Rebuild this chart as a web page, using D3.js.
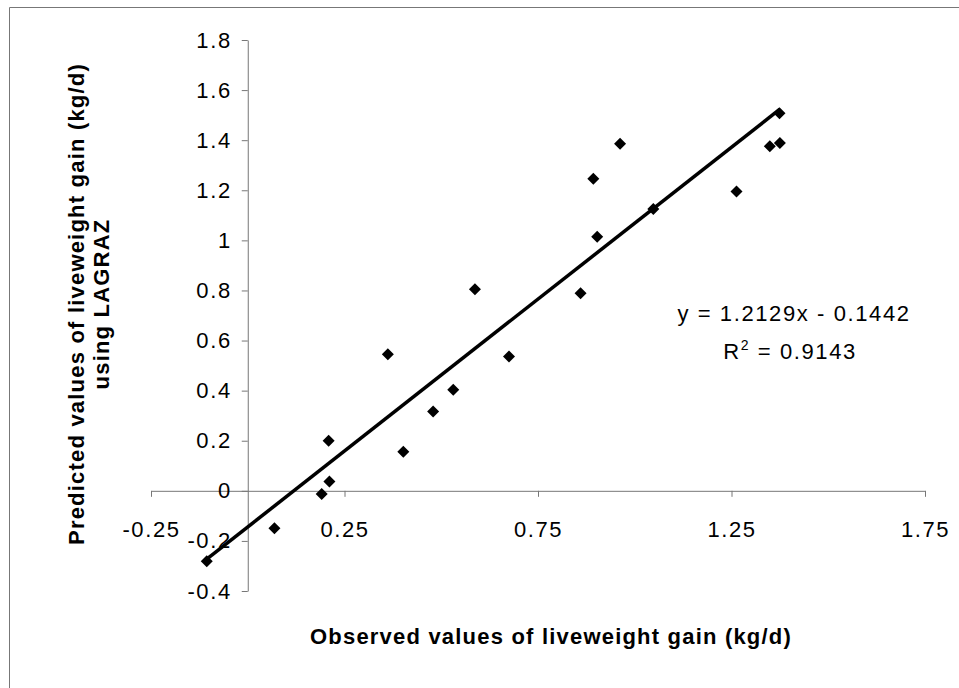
<!DOCTYPE html>
<html>
<head>
<meta charset="utf-8">
<script src="https://cdn.jsdelivr.net/npm/d3@7"></script>
<style>
  body { margin: 0; background: #fff; }
  svg { display: block; font-family: Arial, "Liberation Sans", sans-serif; }
</style>
</head>
<body>
<div id="chart"></div>
<script>
// observed vs predicted liveweight gain (kg/d)
var observed  = [-0.106, 0.069, 0.191, 0.211, 0.209, 0.402, 0.362, 0.479, 0.531, 0.587,
                 0.675, 0.860, 0.893, 0.903, 0.962, 1.048, 1.263, 1.349, 1.375, 1.374];
var predicted = [-0.281, -0.149, -0.013, 0.037, 0.200, 0.156, 0.545, 0.317, 0.404, 0.805,
                 0.536, 0.789, 1.246, 1.014, 1.386, 1.125, 1.195, 1.376, 1.389, 1.508];
var xTicks = [-0.25, 0.25, 0.75, 1.25, 1.75];
var yTicks = [-0.4, -0.2, 0, 0.2, 0.4, 0.6, 0.8, 1, 1.2, 1.4, 1.6, 1.8];
var slope = 1.2129, intercept = -0.1442, r2 = 0.9143;

var width = 959, height = 688;
var fs = 22, ls = 1.6;   // scanned text is wide, so a bit of letter spacing

var svg = d3.select("#chart").append("svg")
    .attr("width", width)
    .attr("height", height);

// frame (top and left edges only visible)
svg.append("path")
    .attr("d", "M9.5,688 V7.5 H959")
    .attr("fill", "none")
    .attr("stroke", "#777")
    .attr("stroke-width", 1);

var x = d3.scaleLinear().domain([-0.25, 1.75]).range([151, 925]);
var y = d3.scaleLinear().domain([-0.4, 1.8]).range([591, 40]);

// x axis sits at y = 0
var gx = svg.append("g")
    .attr("transform", "translate(0," + y(0) + ")")
    .call(d3.axisBottom(x).tickValues(xTicks).tickSizeInner(6).tickSizeOuter(0)
        .tickFormat(function(d){ return d; }));
gx.select(".domain").attr("stroke", "#777");
gx.selectAll(".tick line").attr("stroke", "#777");
gx.selectAll(".tick text")
    .attr("y", 31)
    .attr("font-size", fs)
    .attr("letter-spacing", ls)
    .attr("fill", "#000");

// y axis sits at x = 0
var gy = svg.append("g")
    .attr("transform", "translate(" + x(0) + ",0)")
    .call(d3.axisLeft(y).tickValues(yTicks).tickSizeInner(6).tickSizeOuter(0)
        .tickFormat(function(d){ return d; }));
gy.select(".domain").attr("stroke", "#777");
gy.selectAll(".tick line").attr("stroke", "#777");
gy.selectAll(".tick text")
    .attr("x", -16)
    .attr("font-size", fs)
    .attr("letter-spacing", ls)
    .attr("fill", "#000");

// trend line across the data range
var xExt = d3.extent(observed);
svg.append("line")
    .attr("x1", x(xExt[0])).attr("y1", y(slope * xExt[0] + intercept))
    .attr("x2", x(xExt[1])).attr("y2", y(slope * xExt[1] + intercept))
    .attr("stroke", "#000")
    .attr("stroke-width", 3.5);

// points as diamonds
var diamond = d3.symbol().type(d3.symbolSquare).size(72);
svg.selectAll(".pt")
    .data(observed.map(function(d, i){ return [d, predicted[i]]; }))
    .enter().append("path")
    .attr("class", "pt")
    .attr("d", diamond)
    .attr("transform", function(d){
        return "translate(" + x(d[0]) + "," + y(d[1]) + ") rotate(45)";
    })
    .attr("fill", "#000");

// equation
svg.append("text")
    .attr("x", 794).attr("y", 321)
    .attr("text-anchor", "middle")
    .attr("font-size", fs)
    .attr("letter-spacing", ls)
    .text("y = " + slope + "x - " + Math.abs(intercept));
var rt = svg.append("text")
    .attr("x", 790).attr("y", 359)
    .attr("text-anchor", "middle")
    .attr("font-size", fs)
    .attr("letter-spacing", ls);
rt.append("tspan").text("R");
rt.append("tspan").attr("dy", -9).attr("font-size", 14).text("2");
rt.append("tspan").attr("dy", 9).text(" = " + r2);

// axis titles
svg.append("text")
    .attr("x", 551).attr("y", 644)
    .attr("text-anchor", "middle")
    .attr("font-size", fs)
    .attr("font-weight", "bold")
    .attr("letter-spacing", 1.2)
    .text("Observed values of liveweight gain (kg/d)");

var yt = svg.append("text")
    .attr("transform", "translate(84,304) rotate(-90)")
    .attr("text-anchor", "middle")
    .attr("font-size", fs)
    .attr("font-weight", "bold")
    .attr("letter-spacing", 1.2);
yt.append("tspan").attr("x", 0).attr("y", 0).text("Predicted values of liveweight gain (kg/d)");
yt.append("tspan").attr("x", 0).attr("y", 25).text("using LAGRAZ");
</script>
</body>
</html>
